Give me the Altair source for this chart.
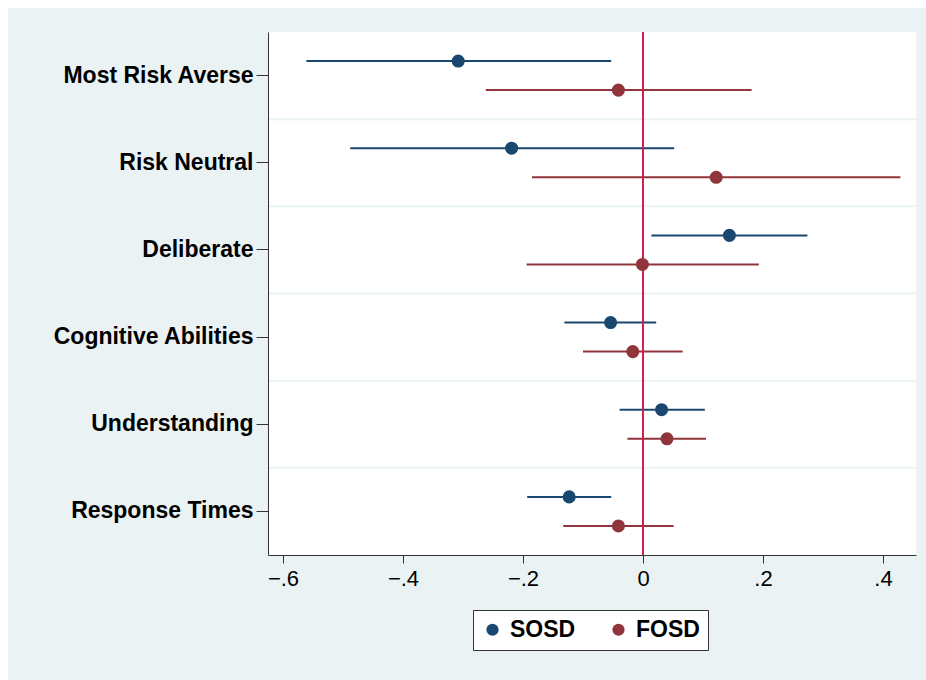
import altair as alt
import pandas as pd

categories = ["Most Risk Averse", "Risk Neutral", "Deliberate",
              "Cognitive Abilities", "Understanding", "Response Times"]
series = ["SOSD", "FOSD"]

sosd_est = [-0.308, -0.219, 0.144, -0.054, 0.031, -0.123]
sosd_lo = [-0.561, -0.488, 0.014, -0.131, -0.039, -0.193]
sosd_hi = [-0.053, 0.052, 0.274, 0.022, 0.103, -0.053]

fosd_est = [-0.041, 0.122, -0.001, -0.017, 0.040, -0.041]
fosd_lo = [-0.262, -0.185, -0.194, -0.100, -0.026, -0.133]
fosd_hi = [0.181, 0.429, 0.193, 0.066, 0.105, 0.051]

x_ticks = [-0.6, -0.4, -0.2, 0, 0.2, 0.4]
x_domain = [-0.625, 0.455]

colors = ["#1a476f", "#90353b"]
ref_color = "#d21f52"
bg_color = "#eaf2f3"

rows = []
for i, c in enumerate(categories):
    rows.append({"cat": c, "series": "SOSD", "est": sosd_est[i], "lo": sosd_lo[i], "hi": sosd_hi[i]})
    rows.append({"cat": c, "series": "FOSD", "est": fosd_est[i], "lo": fosd_lo[i], "hi": fosd_hi[i]})
df = pd.DataFrame(rows)
grid_df = pd.DataFrame({"cat": categories[1:]})

W, H = 648, 523
FONT = "Liberation Sans"

yscale = alt.Scale(domain=categories, paddingInner=0, paddingOuter=0)
yoff = alt.YOffset("series:N", scale=alt.Scale(domain=series, paddingInner=0, paddingOuter=0.5))
xscale = alt.Scale(domain=x_domain, nice=False, zero=False)
cscale = alt.Scale(domain=series, range=colors)
legend = alt.Legend(title=None, orient="none", legendX=205, legendY=578, direction="horizontal",
                    symbolType="circle", symbolSize=150, symbolStrokeWidth=0, symbolOpacity=1,
                    labelFont=FONT, labelFontSize=23, labelFontWeight="bold", labelColor="black",
                    labelOffset=6, columnPadding=31, padding=8, fillColor="white",
                    strokeColor="#333333")

yaxis = alt.Axis(title=None, labelFont=FONT, labelFontSize=23, labelFontWeight="bold",
                 labelColor="black", tickSize=12, tickColor="#333333", domainColor="#333333",
                 labelPadding=3, grid=False, zindex=1, labelLimit=300)
xaxis = alt.Axis(title=None, values=x_ticks, labelFont=FONT, labelFontSize=22, labelColor="black",
                 tickSize=8, tickColor="#333333", domainColor="#333333", labelPadding=5,
                 grid=False, zindex=1,
                 labelExpr="datum.value == 0 ? '0' : replace(format(datum.value, '.1f'), '0.', '.')",
                 labelFlush=False)

base = alt.Chart(df)

bg = alt.Chart(grid_df).mark_rect(color=bg_color).encode(
    x=alt.value(-260), x2=alt.value(W + 20), y=alt.value(-24), y2=alt.value(H + 130))
plotbg = alt.Chart(grid_df).mark_rect(color="white").encode(
    x=alt.value(0), x2=alt.value(W), y=alt.value(0), y2=alt.value(H))

grid = alt.Chart(grid_df).mark_rule(color=bg_color, strokeWidth=2).encode(
    y=alt.Y("cat:N", scale=yscale, bandPosition=0, axis=yaxis),
    x=alt.value(0), x2=alt.value(W))

bars = base.mark_rule(strokeWidth=2).encode(
    y=alt.Y("cat:N", scale=yscale, axis=yaxis),
    yOffset=yoff,
    x=alt.X("lo:Q", scale=xscale, axis=xaxis),
    x2="hi:Q",
    color=alt.Color("series:N", scale=cscale, legend=legend))

ref = alt.Chart(pd.DataFrame({"v": [0]})).mark_rule(color=ref_color, strokeWidth=2).encode(
    x=alt.X("v:Q", scale=xscale, axis=xaxis))

points = base.mark_point(filled=True, size=170, opacity=1).encode(
    y=alt.Y("cat:N", scale=yscale, axis=yaxis),
    yOffset=yoff,
    x=alt.X("est:Q", scale=xscale, axis=xaxis),
    color=alt.Color("series:N", scale=cscale, legend=legend))

chart = alt.layer(bg, plotbg, grid, bars, ref, points).properties(
    width=W, height=H,
    autosize=alt.AutoSizeParams(type="none"),
    padding={"left": 268, "top": 32, "right": 10, "bottom": 125},
    background="white",
).configure_view(stroke=None, fill=None)

chart.save("out.html", embed_options={"renderer": "svg", "actions": False})
